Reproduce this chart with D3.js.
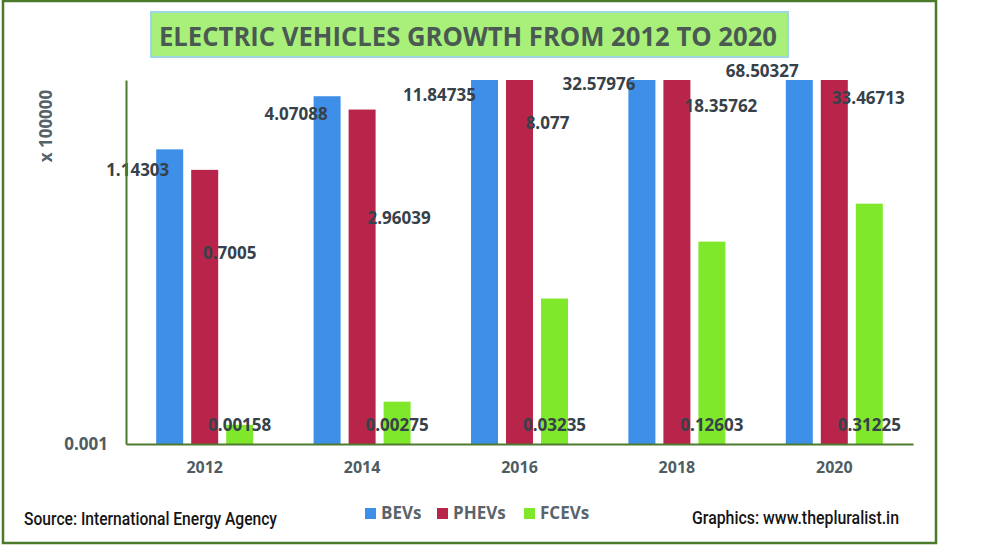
<!DOCTYPE html>
<html>
<head>
<meta charset="utf-8">
<script src="https://cdn.jsdelivr.net/npm/d3@7"></script>
<style>
  body { margin: 0; background: #fff; }
  svg { display: block; }
</style>
</head>
<body>
<script>
// data
const years = ["2012", "2014", "2016", "2018", "2020"];
const series = ["BEVs", "PHEVs", "FCEVs"];
const bevs = [1.14303, 4.07088, 11.84735, 32.57976, 68.50327];
const phevs = [0.7005, 2.96039, 8.077, 18.35762, 33.46713];
const fcevs = [0.00158, 0.00275, 0.03235, 0.12603, 0.31225];
const yTicks = [0.001];
const colors = ["#3d8fe8", "#b9244a", "#7fe82b"];

// label nudges (px from bar top-centre), as placed in the original
const labelNudge = {
  BEVs:  [[-32, 20], [-31, 17], [-45, 14], [-43, 3], [-37, -10]],
  PHEVs: [[25, 83], [37, 108], [28, 42], [44, 25], [34, 17]]
};

const w = 1000, h = 558;
const plotTop = 80, plotBottom = 444, plotLeft = 126, plotRight = 913;

const rows = years.map((yr, i) => ({
  year: yr,
  vals: [
    {key: "BEVs", v: bevs[i], i: i},
    {key: "PHEVs", v: phevs[i], i: i},
    {key: "FCEVs", v: fcevs[i], i: i}
  ]
}));

const svg = d3.select("body").append("svg")
  .attr("width", w)
  .attr("height", h);

// outer frame
svg.append("rect")
  .attr("x", 3).attr("y", 1)
  .attr("width", 933).attr("height", 542)
  .attr("fill", "none")
  .attr("stroke", "#4b7a2b")
  .attr("stroke-width", 2.5);

// title box
svg.append("rect")
  .attr("x", 151).attr("y", 12)
  .attr("width", 637).attr("height", 45)
  .attr("fill", "#a9f07b")
  .attr("stroke", "#9fd6e3")
  .attr("stroke-width", 2);

svg.append("text")
  .attr("x", 159).attr("y", 46)
  .attr("textLength", 618)
  .attr("lengthAdjust", "spacingAndGlyphs")
  .style("font-family", "'Open Sans', sans-serif")
  .style("font-weight", 700)
  .style("font-size", "27px")
  .style("fill", "#4a5a52")
  .text("ELECTRIC VEHICLES GROWTH FROM 2012 TO 2020");

// scales
const x0 = d3.scaleBand()
  .domain(years)
  .range([plotLeft, plotRight]);

const x1 = d3.scaleBand()
  .domain(series)
  .range([x0.bandwidth() / 2 - 48.5, x0.bandwidth() / 2 + 48.5])
  .paddingInner(8 / 35);

const y = d3.scaleLog()
  .domain([0.001, 6])
  .range([plotBottom, plotTop])
  .clamp(true);

const color = d3.scaleOrdinal().domain(series).range(colors);

// bars
const groups = svg.append("g").selectAll("g")
  .data(rows)
  .join("g")
  .attr("transform", d => "translate(" + x0(d.year) + ",0)");

groups.selectAll("rect")
  .data(d => d.vals)
  .join("rect")
  .attr("x", d => x1(d.key))
  .attr("y", d => y(d.v))
  .attr("width", x1.bandwidth())
  .attr("height", d => plotBottom - y(d.v))
  .attr("fill", d => color(d.key));

// value labels
groups.selectAll("text.val")
  .data(d => d.vals)
  .join("text")
  .attr("class", "val")
  .attr("x", d => {
    const cx = x1(d.key) + x1.bandwidth() / 2;
    return d.key === "FCEVs" ? cx : cx + labelNudge[d.key][d.i][0];
  })
  .attr("y", d => d.key === "FCEVs" ? plotBottom - 20 : y(d.v) + labelNudge[d.key][d.i][1])
  .attr("text-anchor", "middle")
  .attr("dominant-baseline", "central")
  .style("font-family", "'Open Sans', sans-serif")
  .style("font-weight", 700)
  .style("font-size", "17px")
  .style("fill", "#36414a")
  .text(d => d.v);

// axes
const bottomAxis = d3.axisBottom(x0).tickSize(0).tickPadding(18);
const leftAxis = d3.axisLeft(y).tickValues(yTicks).tickSize(0).tickPadding(18)
  .tickFormat(d3.format(".3f"));

const gx = svg.append("g")
  .attr("transform", "translate(0," + plotBottom + ")")
  .call(bottomAxis);

const gy = svg.append("g")
  .attr("transform", "translate(" + plotLeft + ",0)")
  .call(leftAxis);

[gx, gy].forEach(g => {
  g.select(".domain").attr("stroke", "#4e7a30").attr("stroke-width", 2);
  g.selectAll("text")
    .style("font-family", "'Open Sans', sans-serif")
    .style("font-weight", 700)
    .style("font-size", "16px")
    .style("fill", "#4f5d63");
});
gy.selectAll("text").style("font-size", "17px");

// y axis unit
svg.append("text")
  .attr("transform", "translate(52,126) rotate(-90)")
  .attr("text-anchor", "middle")
  .style("font-family", "'Open Sans', sans-serif")
  .style("font-weight", 700)
  .style("font-size", "17px")
  .style("fill", "#55626a")
  .text("x 100000");

// legend
const legendX = [365, 437, 524];
const legend = svg.append("g").selectAll("g")
  .data(series)
  .join("g")
  .attr("transform", (d, i) => "translate(" + legendX[i] + ",508)");

legend.append("rect")
  .attr("width", 11).attr("height", 11)
  .attr("fill", d => color(d));

legend.append("text")
  .attr("x", 16).attr("y", 10.5)
  .style("font-family", "'Open Sans', sans-serif")
  .style("font-weight", 700)
  .style("font-size", "17px")
  .style("fill", "#59656b")
  .text(d => d);

// footer
svg.append("text")
  .attr("x", 24).attr("y", 525)
  .attr("textLength", 253)
  .attr("lengthAdjust", "spacingAndGlyphs")
  .style("font-family", "Roboto, sans-serif")
  .style("font-weight", 500)
  .style("font-size", "18px")
  .style("fill", "#151515")
  .text("Source: International Energy Agency");

svg.append("text")
  .attr("x", 692).attr("y", 524)
  .attr("textLength", 207)
  .attr("lengthAdjust", "spacingAndGlyphs")
  .style("font-family", "Roboto, sans-serif")
  .style("font-weight", 500)
  .style("font-size", "18px")
  .style("fill", "#151515")
  .text("Graphics: www.thepluralist.in");
</script>
</body>
</html>
